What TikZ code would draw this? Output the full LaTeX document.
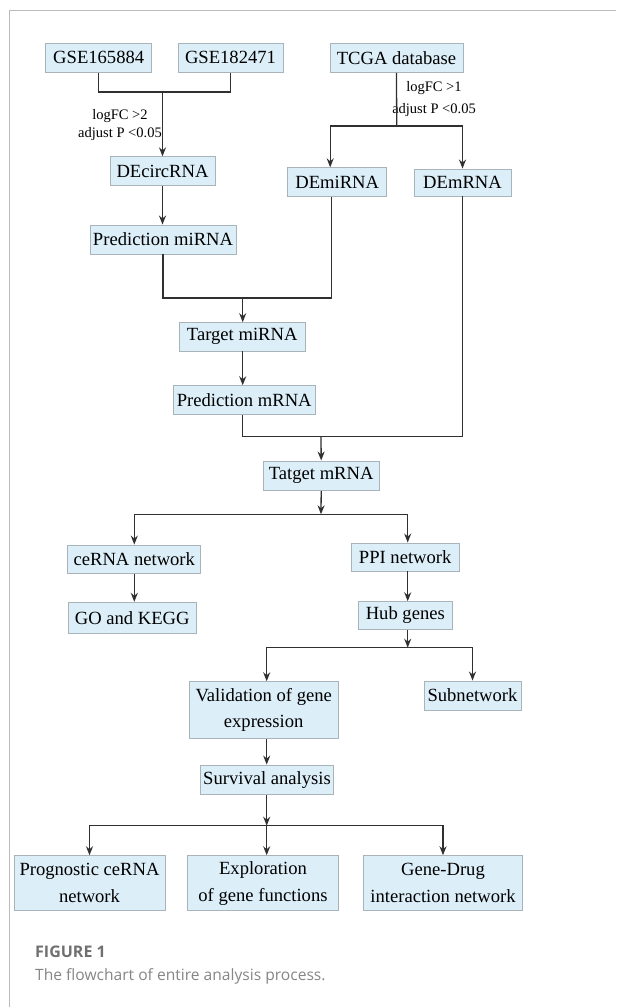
\documentclass[tikz,border=0pt]{standalone}
\usepackage{fontspec}
\setmainfont{Liberation Serif}
\newfontfamily\capfont{Open Sans}
\usetikzlibrary{arrows.meta}
\definecolor{boxblue}{HTML}{DCEEF8}
\definecolor{boxline}{HTML}{A9B3BA}
\definecolor{linkgray}{HTML}{303030}
\definecolor{framegray}{HTML}{BBBBBB}
\definecolor{capgray}{HTML}{707070}

\begin{document}
\begin{tikzpicture}[x=1pt,y=-1pt,
    box/.style={draw=boxline,fill=boxblue,line width=0.9pt,inner sep=0pt,align=center,
      font=\fontsize{18.6}{26.7}\selectfont},
    link/.style={draw=linkgray,line width=1.3pt},
    arr/.style={link,-{Stealth[length=9pt,width=7pt]}},
    cut/.style={font=\fontsize{14.5}{18}\selectfont,align=center,inner sep=0pt}]

        \useasboundingbox (0,0) rectangle (616,1007);
        \draw[framegray,line width=1pt] (9,1007) -- (9,10) -- (616,10);

        % Data sources
        \node[box,minimum width=106,minimum height=29] (gseA) at (98.7,57.8) {GSE165884};
        \node[box,minimum width=105,minimum height=29] (gseB) at (230.5,57.8) {GSE182471};
        \node[box,minimum width=133,minimum height=29] (tcga) at (396.5,57.8) {TCGA database};

        % Differential expression
        \node[box,minimum width=105,minimum height=29] (decirc) at (162.5,171.3) {DEcircRNA};
        \node[box,minimum width=99,minimum height=29] (demi) at (337.2,182.3) {DEmiRNA};
        \node[box,minimum width=97,minimum height=27] (demr) at (462.5,182.5) {DEmRNA};
        \node[box,minimum width=146,minimum height=29] (predmi) at (163,239.5) {Prediction miRNA};

        % Targets
        \node[box,minimum width=126,minimum height=28.3] (tarmi) at (242.2,336.8) {Target miRNA};
        \node[box,minimum width=142,minimum height=28.6] (predm) at (244.2,400) {Prediction mRNA};
        \node[box,minimum width=116,minimum height=29.7] (tatm) at (321.2,475.8) {Tatget mRNA};

        % Networks
        \node[box,minimum width=133,minimum height=28.3] (cerna) at (134.3,559.2) {ceRNA network};
        \node[box,minimum width=128,minimum height=31] (gokegg) at (132.2,617.8) {GO and KEGG};
        \node[box,minimum width=108,minimum height=28] (ppi) at (405.2,557) {PPI network};
        \node[box,minimum width=94,minimum height=27.6] (hub) at (405.3,615.5) {Hub genes};
        \node[box,minimum width=149,minimum height=56.6] (valid) at (263.7,710) {Validation of gene\\expression};
        \node[box,minimum width=97,minimum height=29] (subnet) at (472.5,695.5) {Subnetwork};
        \node[box,minimum width=133,minimum height=29.3] (surv) at (267,779.7) {Survival analysis};

        % Final analyses
        \node[box,minimum width=151,minimum height=55] (prog) at (89.5,883.2) {Prognostic ceRNA\\network};
        \node[box,minimum width=151,minimum height=55] (explo) at (263,883.2) {Exploration\\of gene functions};
        \node[box,minimum width=159,minimum height=55] (drug) at (443,883.2) {Gene-Drug\\interaction network};

        % Cut-offs
        \node[cut] (cutA) at (120,125) {logFC \textgreater2\\adjust P \textless0.05};
        \node[cut,font=\fontsize{14.5}{22}\selectfont] (cutB) at (434,99) {logFC \textgreater1\\adjust P \textless0.05};

        % Junctions
        \coordinate (j1) at (162.5,92);
        \coordinate (j2) at (396.7,126);
        \coordinate (j3) at (242.7,298);
        \coordinate (j4) at (321,436.7);
        \coordinate (j5) at (321,514.3);
        \coordinate (j6) at (407.7,647.7);
        \coordinate (j7) at (266.7,825.7);

        % Connectors
        \draw[link] (gseA.south) |- (j1) -| (gseB.south);
        \draw[arr] (j1) -- (decirc.north);
        \draw[arr] (decirc.south) -- (decirc.south |- predmi.north);
        \draw[link] (tcga.south) -- (j2);
        \draw[arr] (j2) -| ([xshift=-7]demi.north);
        \draw[arr] (j2) -| (demr.north);
        \draw[link] (predmi.south) |- (j3) -| ([xshift=-6]demi.south);
        \draw[arr] (j3) -- (j3 |- tarmi.north);
        \draw[arr] (j3 |- tarmi.south) -- (j3 |- predm.north);
        \draw[link] (j3 |- predm.south) |- (j4) -| (demr.south);
        \draw[arr] (j4) -- (tatm.north);
        \draw[arr] (tatm.south) -- (j5);
        \draw[arr] (j5) -| (cerna.north);
        \draw[arr] (j5) -| (j6 |- ppi.north);
        \draw[arr] (cerna.south) -- (cerna.south |- gokegg.north);
        \draw[arr] (j6 |- ppi.south) -- (j6 |- hub.north);
        \draw[arr] (j6 |- hub.south) -- (j6);
        \draw[arr] (j6) -| (j7 |- valid.north);
        \draw[arr] (j6) -| (subnet.north);
        \draw[arr] (j7 |- valid.south) -- (j7 |- surv.north);
        \draw[arr] (j7 |- surv.south) -- (j7);
        \draw[arr] (j7) -| (prog.north);
        \draw[arr] (j7) -- (j7 |- explo.north);
        \draw[arr] (j7) -| (drug.north);

        % Caption
        \node[anchor=west,inner sep=0pt,text=capgray,font=\fontsize{16}{20}\capfont\bfseries] (figno) at (35,951.7) {FIGURE 1};
        \node[anchor=west,inner sep=0pt,text=capgray!85,font=\fontsize{15.6}{20}\capfont] (figcap) at (35,976.7) {The flowchart of entire analysis process.};

    \end{tikzpicture}
\end{document}
